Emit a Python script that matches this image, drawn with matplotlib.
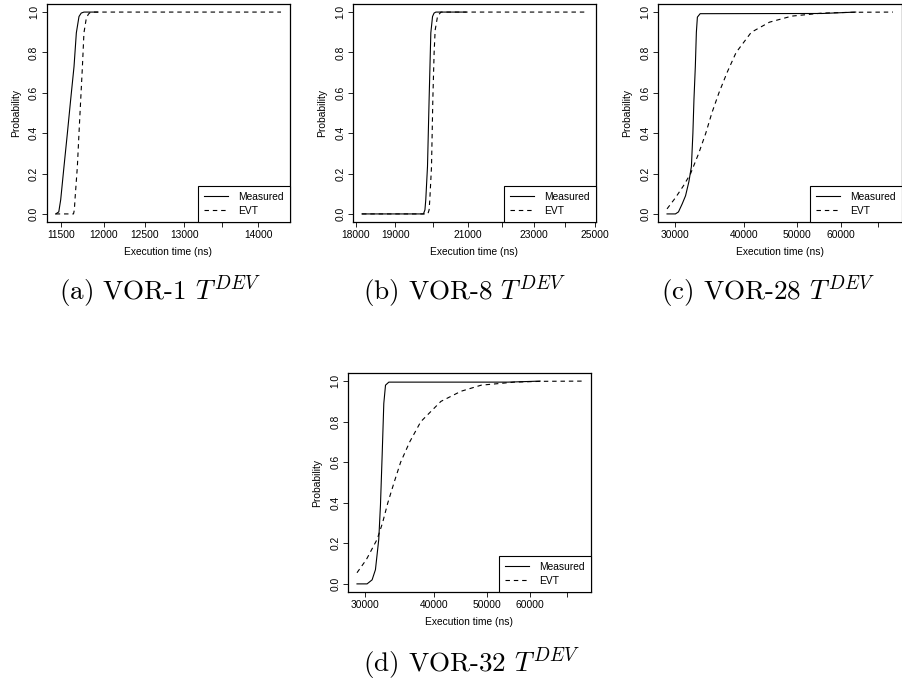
import matplotlib
matplotlib.use('Agg')
import matplotlib.pyplot as plt
import numpy as np

plt.rcParams['font.family'] = ['Liberation Sans', 'DejaVu Sans']
plt.rcParams['mathtext.fontset'] = 'cm'

# (a) VOR-1
measured_a_x = [11435, 11470, 11492, 11530, 11569, 11607, 11646, 11673, 11704, 11730, 11762, 11924]
measured_a_p = [0.0, 0.01, 0.07, 0.235, 0.40, 0.566, 0.73, 0.897, 0.978, 0.995, 1.0, 1.0]
evt_a_x = [11435, 11640, 11650, 11657, 11685, 11704, 11724, 11744, 11762, 11790, 11815, 11841, 14320]
evt_a_p = [0.0, 0.0, 0.02, 0.07, 0.235, 0.40, 0.566, 0.73, 0.897, 0.97, 0.99, 1.0, 1.0]
ticks_a = [11500, 12000, 12500, 13000, 13500, 14000]
labels_a = ['11500', '12000', '12500', '13000', '', '14000']

# (b) VOR-8
measured_b_x = [18150, 19750, 19790, 19813, 19860, 19904, 19951, 19998, 20040, 20090, 20942]
measured_b_p = [0.0, 0.0, 0.02, 0.07, 0.235, 0.566, 0.897, 0.978, 0.995, 1.0, 1.0]
evt_b_x = [18150, 19870, 19904, 19923, 19970, 20006, 20042, 20070, 20137, 20230, 24729]
evt_b_p = [0.0, 0.0, 0.02, 0.07, 0.235, 0.566, 0.80, 0.91, 0.98, 1.0, 1.0]
ticks_b = [18000, 19000, 20000, 21000, 22000, 23000, 24000, 25000]
labels_b = ['18000', '19000', '', '21000', '', '23000', '', '25000']

# (c) VOR-28
measured_c_x = [28963, 30000, 30383, 30864, 31299, 31740, 32076, 32276, 32419, 32607, 32749, 32890, 33272, 55447, 63835]
measured_c_p = [0.0, 0.0, 0.01, 0.05, 0.09, 0.16, 0.235, 0.40, 0.566, 0.73, 0.90, 0.975, 0.992, 0.993, 1.0]
evt_c_x = [28963, 30000, 31034, 31969, 33071, 34067, 34943, 35997, 37237, 38683, 41222, 44488, 48838, 55447, 63029, 74618]
evt_c_p = [0.025, 0.08, 0.14, 0.20, 0.30, 0.40, 0.50, 0.60, 0.70, 0.80, 0.90, 0.95, 0.98, 0.995, 0.999, 1.0]

# (d) VOR-32
measured_d_x = [28963, 30217, 30864, 31299, 31740, 31969, 32200, 32419, 32653, 33113, 54677, 62576]
measured_d_p = [0.0, 0.0, 0.02, 0.07, 0.22, 0.39, 0.64, 0.89, 0.98, 0.995, 0.995, 1.0]
evt_d_x = [28963, 30127, 31525, 32241, 32973, 33851, 34796, 36148, 37875, 41222, 44866, 48838, 56156, 63029, 74618]
evt_d_p = [0.055, 0.12, 0.22, 0.30, 0.40, 0.50, 0.60, 0.70, 0.80, 0.90, 0.95, 0.98, 0.995, 0.999, 1.0]

ticks_cd = [30000, 40000, 50000, 60000, 70000]
labels_cd = ['30000', '40000', '50000', '60000', '']

captions = [r'(a) VOR-1 $T^{DEV}$', r'(b) VOR-8 $T^{DEV}$',
            r'(c) VOR-28 $T^{DEV}$', r'(d) VOR-32 $T^{DEV}$']


def draw_panel(fig, rect, mx, mp, ex, ep, ticks, labels, caption, cap_xy):
    ax = fig.add_axes(rect)
    ax.plot(mx, mp, color='black', lw=0.8, label='Measured')
    ax.plot(ex, ep, color='black', lw=0.8, dashes=(4, 3.5), label='EVT')
    ax.set_xscale('log')
    # R style 4% padding in log space
    lo = min(min(mx), min(ex))
    hi = max(max(mx), max(ex))
    span = np.log(hi) - np.log(lo)
    ax.set_xlim(lo * np.exp(-0.04 * span), hi * np.exp(0.04 * span))
    ax.set_ylim(-0.04, 1.04)
    ax.set_xticks(ticks)
    ax.set_xticklabels(labels)
    ax.xaxis.set_minor_locator(matplotlib.ticker.NullLocator())
    ax.set_yticks([0, 0.2, 0.4, 0.6, 0.8, 1.0])
    ax.set_yticklabels(['0.0', '0.2', '0.4', '0.6', '0.8', '1.0'], rotation=90, va='center')
    ax.tick_params(length=3.5, width=0.6, pad=2, labelsize=7.4)
    for s in ax.spines.values():
        s.set_linewidth(0.9)
    ax.set_xlabel('Execution time (ns)', fontsize=7.4, labelpad=5)
    ax.set_ylabel('Probability', fontsize=7.4, labelpad=6)
    leg = ax.legend(loc='lower right', fontsize=7.4, borderaxespad=0, fancybox=False,
                    framealpha=1, edgecolor='black', handlelength=2.3,
                    borderpad=0.6, labelspacing=0.4, handletextpad=1.0)
    leg.get_frame().set_linewidth(0.8)
    fig.text(cap_xy[0], cap_xy[1], caption,
             fontsize=19.5, family='cmr10', ha='center', va='center')
    return ax


def create_figure():
    fig = plt.figure(figsize=(9.03, 6.83), dpi=100)
    H = 683.0
    W = 903.0
    top_rects = [
        (46.7 / W, 1 - 222 / H, 243.3 / W, 218 / H),
        (353 / W, 1 - 222 / H, 243 / W, 218 / H),
        (658 / W, 1 - 222 / H, 244 / W, 218 / H),
    ]
    top_cap = 1 - 292 / H
    draw_panel(fig, top_rects[0], measured_a_x, measured_a_p, evt_a_x, evt_a_p,
               ticks_a, labels_a, captions[0], (160 / W, top_cap))
    draw_panel(fig, top_rects[1], measured_b_x, measured_b_p, evt_b_x, evt_b_p,
               ticks_b, labels_b, captions[1], (465 / W, top_cap))
    draw_panel(fig, top_rects[2], measured_c_x, measured_c_p, evt_c_x, evt_c_p,
               ticks_cd, labels_cd, captions[2], (768 / W, top_cap))
    draw_panel(fig, (348 / W, 1 - 592 / H, 243 / W, 219 / H), measured_d_x, measured_d_p,
               evt_d_x, evt_d_p, ticks_cd, labels_cd, captions[3], (471 / W, 1 - 664 / H))
    fig.savefig('out.png', dpi=100)
    plt.close(fig)


if __name__ == "__main__":
    create_figure()
